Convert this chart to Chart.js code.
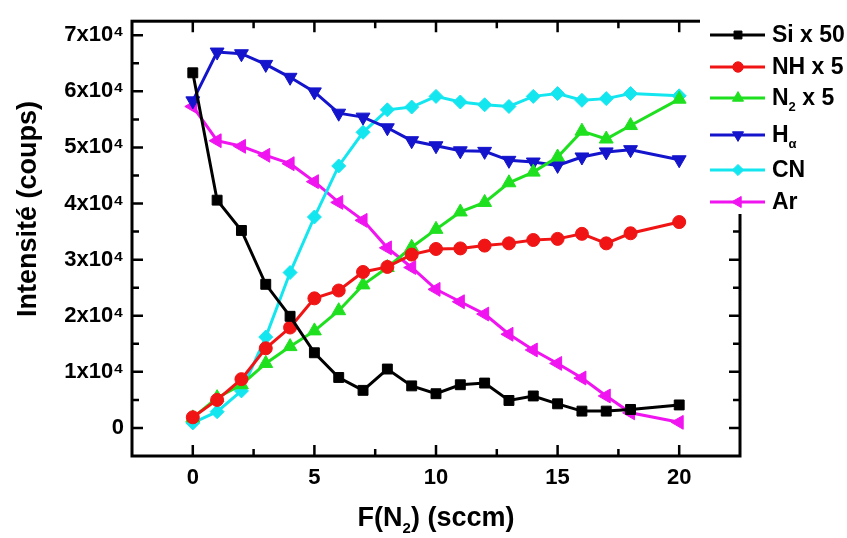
<!DOCTYPE html>
<html lang="fr">
<head>
<meta charset="UTF-8">
<title>Intensité en fonction de F(N2)</title>
<script src="https://cdn.jsdelivr.net/npm/chart.js@4.4.1/dist/chart.umd.min.js"></script>
<style>
    html, body { margin: 0; padding: 0; background: #fff; }
    #wrap { width: 847px; height: 538px; }
</style>
</head>
<body>
<div id="wrap"><canvas id="chart" width="847" height="538"></canvas></div>
<script>
// x values: N2 flow (sccm)
const flow = [0, 1, 2, 3, 4, 5, 6, 7, 8, 9, 10, 11, 12, 13, 14, 15, 16, 17, 18, 20];

// series (counts)
const si50 = [63300, 40600, 35200, 25600, 19900, 13400, 9000, 6700, 10500, 7500, 6100, 7700, 8000, 4900, 5700, 4300, 3000, 3000, 3300, 4100];
const nh5  = [1900, 5000, 8700, 14200, 17900, 23100, 24500, 27800, 28700, 30900, 31900, 32000, 32500, 32900, 33500, 33700, 34600, 32900, 34700, 36700];
const n25  = [1800, 5400, 7700, 11500, 14500, 17300, 20900, 25500, 28600, 32200, 35400, 38500, 40200, 43700, 45600, 48300, 52900, 51500, 53900, 58600];
const hAlpha = [58300, 67000, 66700, 64800, 62500, 59900, 56100, 55400, 53500, 51200, 50300, 49400, 49300, 47700, 47400, 46800, 48300, 49200, 49600, 47800];
const cn   = [900, 2900, 6600, 16200, 27700, 37600, 46700, 52700, 56700, 57200, 59100, 58100, 57600, 57300, 59100, 59600, 58400, 58700, 59600, 59200];
const ar   = [57300, 51200, 50200, 48600, 47100, 43900, 40200, 37000, 32100, 28600, 24700, 22500, 20300, 16700, 13900, 11500, 8900, 5700, 2700, 1000];

// axes
const xTicks = [0, 5, 10, 15, 20];
const xMinor = [2.5, 7.5, 12.5, 17.5];
const yTicks = [0, 10000, 20000, 30000, 40000, 50000, 60000, 70000];
const yMinor = [5000, 15000, 25000, 35000, 45000, 55000, 65000];

const FONT = "'Liberation Sans', Arial, sans-serif";

function pts(ys) {
    return flow.map((x, i) => ({ x: x, y: ys[i] }));
}

function series(label, sub, suffix, ys, color, style, radius, rotation) {
    return {
        label: label,
        legendParts: [{ t: label }, { t: sub, sub: true }, { t: suffix }],
        data: pts(ys),
        borderColor: color,
        backgroundColor: color,
        borderWidth: 3,
        pointStyle: style,
        pointRadius: radius,
        pointRotation: rotation,
        pointBorderWidth: 1,
        pointBackgroundColor: color,
        pointBorderColor: color,
        tension: 0
    };
}

// draws text with optional subscripts, returns width
function richText(ctx, parts, x, y, size, measureOnly) {
    let cx = x;
    parts.forEach(p => {
        if (!p.t) return;
        const fs = p.sub ? Math.round(size * 0.55) : size;
        ctx.font = 'bold ' + fs + 'px ' + FONT;
        if (!measureOnly) ctx.fillText(p.t, cx, p.sub ? y + size * 0.38 : y);
        cx += ctx.measureText(p.t).width;
    });
    return cx - x;
}

const framePlugin = {
    id: 'frame',
    afterDraw(chart) {
        const ctx = chart.ctx;
        const a = chart.chartArea;
        const xs = chart.scales.x, ys = chart.scales.y;
        ctx.save();
        ctx.strokeStyle = '#000';

        // ticks on all four sides, pointing inward
        ctx.lineWidth = 2.5;
        ctx.beginPath();
        const xt = (v, len) => {
            const p = xs.getPixelForValue(v);
            ctx.moveTo(p, a.bottom); ctx.lineTo(p, a.bottom - len);
            ctx.moveTo(p, a.top); ctx.lineTo(p, a.top + len);
        };
        const yt = (v, len) => {
            const p = ys.getPixelForValue(v);
            ctx.moveTo(a.left, p); ctx.lineTo(a.left + len, p);
            ctx.moveTo(a.right, p); ctx.lineTo(a.right - len, p);
        };
        xTicks.forEach(v => xt(v, 11));
        xMinor.forEach(v => xt(v, 7));
        yTicks.forEach(v => yt(v, 11));
        yMinor.forEach(v => yt(v, 7));
        ctx.stroke();

        ctx.lineWidth = 3;
        ctx.strokeRect(a.left, a.top, a.right - a.left, a.bottom - a.top);

        // axis titles
        ctx.fillStyle = '#000';
        ctx.textBaseline = 'middle';
        ctx.textAlign = 'left';
        const xTitle = [{ t: 'F(N' }, { t: '2', sub: true }, { t: ') (sccm)' }];
        const w = richText(ctx, xTitle, 0, 0, 27, true);
        richText(ctx, xTitle, (a.left + a.right) / 2 - w / 2, 519, 27);

        ctx.save();
        ctx.translate(29, 209);
        ctx.rotate(-Math.PI / 2);
        ctx.font = 'bold 27px ' + FONT;
        ctx.textAlign = 'center';
        ctx.fillText('Intensité (coups)', 0, 0);
        ctx.restore();

        // legend box
        ctx.fillStyle = '#fff';
        ctx.fillRect(700, 17, 147, 197);
        const rows = [35, 67, 98, 135, 170, 202];
        chart.data.datasets.forEach((ds, i) => {
            const y = rows[i];
            ctx.strokeStyle = ds.borderColor;
            ctx.lineWidth = 3;
            ctx.beginPath();
            ctx.moveTo(710, y); ctx.lineTo(765, y);
            ctx.stroke();
            ctx.fillStyle = ds.borderColor;
            ctx.lineWidth = 1;
            Chart.helpers.drawPoint(ctx, {
                pointStyle: ds.pointStyle,
                rotation: ds.pointRotation,
                radius: ds.pointRadius * 0.8,
                borderWidth: 1
            }, 738, y);
            ctx.fillStyle = '#000';
            ctx.textAlign = 'left';
            ctx.textBaseline = 'middle';
            richText(ctx, ds.legendParts, 772, y + 1, 23);
        });
        ctx.restore();
    }
};

new Chart(document.getElementById('chart'), {
    type: 'line',
    data: {
        datasets: [
            series('Si x 50', '', '', si50, '#000000', 'rect', 7, 0),
            series('NH x 5', '', '', nh5, '#f01414', 'circle', 6.5, 0),
            series('N', '2', ' x 5', n25, '#1fe01f', 'triangle', 8, 0),
            series('H', 'α', '', hAlpha, '#1414cc', 'triangle', 8, 180),
            series('CN', '', '', cn, '#14e6f0', 'rectRot', 7, 0),
            series('Ar', '', '', ar, '#f014f0', 'triangle', 8, 270)
        ]
    },
    options: {
        responsive: false,
        devicePixelRatio: 1,
        animation: false,
        layout: { padding: { left: 0, right: 107, top: 8, bottom: 0 } },
        plugins: {
            legend: { display: false },
            tooltip: { enabled: false }
        },
        scales: {
            x: {
                type: 'linear',
                min: -2.5,
                max: 22.5,
                afterFit: s => { s.height = 82; },
                afterBuildTicks: s => { s.ticks = xTicks.map(v => ({ value: v })); },
                grid: { display: false, drawTicks: false },
                border: { display: false },
                ticks: {
                    padding: 9,
                    color: '#000',
                    font: { family: FONT, size: 22, weight: 'bold' },
                    maxRotation: 0
                }
            },
            y: {
                type: 'linear',
                min: -5000,
                max: 72500,
                afterFit: s => { s.width = 132; },
                afterBuildTicks: s => { s.ticks = yTicks.map(v => ({ value: v })); },
                grid: { display: false, drawTicks: false },
                border: { display: false },
                ticks: {
                    padding: 8,
                    color: '#000',
                    font: { family: FONT, size: 22, weight: 'bold' },
                    callback: v => v === 0 ? '0' : (v / 10000) + 'x10\u2074'
                }
            }
        }
    },
    plugins: [framePlugin]
});
</script>
</body>
</html>
